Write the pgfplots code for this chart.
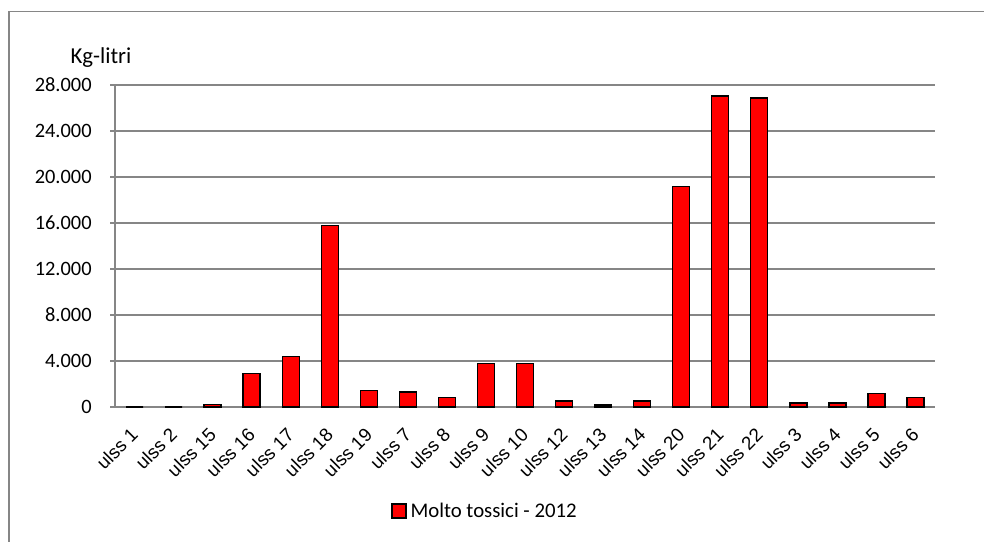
\documentclass[border=0pt]{standalone}
\usepackage{pgfplots}
\pgfplotsset{compat=1.18}
\usepackage{fontspec}
\setmainfont{Carlito}
\newfontfamily\arialfont{Liberation Sans}
\definecolor{gridgray}{RGB}{134,134,134}
\begin{document}
\fontsize{10.4}{12.5}\selectfont
\begin{tikzpicture}
\useasboundingbox (0,0) rectangle (492pt,270.5pt);
\draw[gridgray, line width=0.7pt] (4.5pt,-5pt) -- (4.5pt,264.6pt) -- (500pt,264.6pt);
\node[font=\fontsize{11.4}{13}\selectfont] at (50.5pt,241.5pt) {Kg-litri};
\begin{axis}[
  at={(57.5pt,67pt)}, anchor=south west,
  scale only axis, width=410pt, height=161pt,
  xmin=-0.5, xmax=20.5, ymin=0, ymax=28000,
  axis x line=bottom, axis y line=left,
  axis line style={gridgray, line width=0.7pt, -},
  ytick={0,4000,...,28000},
  ymajorgrids, grid style={gridgray, line width=0.65pt},
  tick align=outside,
  major tick length=2.5pt,
  minor tick length=3pt,
  tick style={gridgray, line width=0.65pt},
  xtick={0,...,20},
  x tick style={draw=none},
  minor xtick={-0.5,0.5,...,20.5},
  xticklabels={ulss 1,ulss 2,ulss 15,ulss 16,ulss 17,ulss 18,ulss 19,ulss 7,ulss 8,ulss 9,ulss 10,ulss 12,ulss 13,ulss 14,ulss 20,ulss 21,ulss 22,ulss 3,ulss 4,ulss 5,ulss 6},
  xticklabel style={xshift=-2.5pt, yshift=-7pt, rotate=45, anchor=north east, font=\arialfont\fontsize{9.4}{11}\selectfont, inner sep=0pt},
  yticklabel style={font=\fontsize{10.2}{12}\selectfont, anchor=east, inner sep=0pt, xshift=-9pt},
  /pgf/number format/.cd, assume math mode=true, 1000 sep={.}, /pgfplots/.cd,
  scaled y ticks=false,
  legend style={at={(0.4524,-0.326)}, anchor=center, draw=none, font=\fontsize{10.4}{12.5}\selectfont, inner sep=0pt},
  legend image code/.code={\draw[#1] (0pt,-3pt) rectangle (7pt,4pt);},
]
\addplot[ybar, bar width=8.5pt, fill=red, draw=black, line width=0.7pt] coordinates {
(0,0) (1,0) (2,200) (3,2900) (4,4400) (5,15800) (6,1450) (7,1300) (8,820) (9,3800) (10,3800)
(11,520) (12,170) (13,520) (14,19200) (15,27050) (16,26880) (17,350) (18,350) (19,1160) (20,840)
};
\addlegendentry{Molto tossici - 2012}
\end{axis}
\end{tikzpicture}
\end{document}
